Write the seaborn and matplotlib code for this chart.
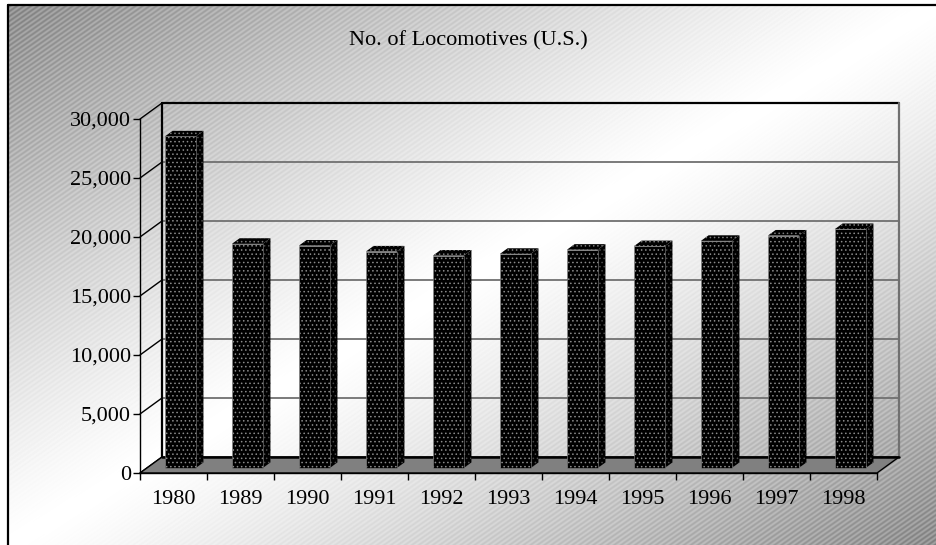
import numpy as np
import pandas as pd
import matplotlib
matplotlib.use("Agg")
import matplotlib.pyplot as plt
from matplotlib.patches import Polygon
import seaborn as sns

# Fleet size of U.S. locomotives by year
years = ["1980", "1989", "1990", "1991", "1992", "1993", "1994", "1995", "1996", "1997", "1998"]
locomotives = [28100, 19000, 18850, 18350, 18000, 18150, 18500, 18800, 19250, 19700, 20250]
y_ticks = [0, 5000, 10000, 15000, 20000, 25000, 30000]
title = "No. of Locomotives (U.S.)"

sns.set_theme(style="white")
plt.rcParams["font.family"] = ["Liberation Serif", "DejaVu Serif"]
plt.rcParams["hatch.linewidth"] = 0.6

W, H = 936, 545
fig = plt.figure(figsize=(W / 100, H / 100), dpi=100)
fig.patch.set_facecolor("white")

# ---- chart-area background: diagonal two-way grey gradient with fine stripes
bg = fig.add_axes([0, 0, 1, 1], zorder=-10)
yy, xx = np.mgrid[0:H, 0:W].astype(float)
u = (xx - 8) / (W - 8)
v = (yy - 5) / (H - 5)
t = (u + v) / 2
val = 1 - 0.44 * np.abs(2 * t - 1) ** 1.2
theta = np.deg2rad(35)
phase = (xx * np.sin(theta) + yy * np.cos(theta)) / 4.0
stripe = np.cos(2 * np.pi * phase)
val = val + 0.16 * (1 - val) * stripe
val[(xx < 8) | (yy < 5)] = 1.0
bg.imshow(np.clip(val, 0, 1), cmap="gray", vmin=0, vmax=1,
          extent=[0, W, H, 0], interpolation="nearest", aspect="auto")
bg.set_xlim(0, W)
bg.set_ylim(H, 0)
bg.axis("off")
bg.plot([8, 8], [H, 5], color="black", lw=1.6)
bg.plot([8, W], [5, 5], color="black", lw=1.6)

# ---- main axes (front plane of the 3-D box)
ax = fig.add_axes([140 / W, (H - 473) / H, 737 / W, 354 / H])
ax.set_facecolor("none")
df = pd.DataFrame({"Year": years, "Locomotives": locomotives})
sns.barplot(data=df, x="Year", y="Locomotives", color="black", width=0.46,
            saturation=1, ax=ax, zorder=5)
ax.set_xlim(-0.5, len(years) - 0.5)
ax.set_ylim(y_ticks[0], y_ticks[-1])

px_x = 737 / len(years)
px_y = 354 / (y_ticks[-1] - y_ticks[0])
wall_dx, wall_dy = 22, 16


def shift(x, y, d):
    """Project a point (x, y) to depth d (0 = front, 1 = back wall)."""
    return (x + d * wall_dx / px_x, y + d * wall_dy / px_y)


x_lo, x_hi = -0.5, len(years) - 0.5
y_top = y_ticks[-1]

# floor
floor = Polygon([shift(x_lo, 0, 0), shift(x_hi, 0, 0), shift(x_hi, 0, 1), shift(x_lo, 0, 1)],
                closed=True, fc="#808080", ec="black", lw=1, clip_on=False, zorder=1)
ax.add_patch(floor)

# back wall gridlines
for yt in y_ticks[1:-1]:
    a, b = shift(x_lo, yt, 1), shift(x_hi, yt, 1)
    ax.plot([a[0], b[0]], [a[1], b[1]], color="#707070", lw=1.3, clip_on=False, zorder=0.5)
a, b = shift(x_lo, y_top, 1), shift(x_hi, y_top, 1)
ax.plot([a[0], b[0]], [a[1], b[1]], color="black", lw=1.6, clip_on=False, zorder=0.6)
a, b = shift(x_lo, 0, 1), shift(x_hi, 0, 1)
ax.plot([a[0], b[0]], [a[1], b[1]], color="black", lw=1.8, clip_on=False, zorder=1.5)
# back wall verticals
a, b = shift(x_lo, 0, 1), shift(x_lo, y_top, 1)
ax.plot([a[0], b[0]], [a[1], b[1]], color="black", lw=1.6, clip_on=False, zorder=0.6)
a, b = shift(x_hi, 0, 1), shift(x_hi, y_top, 1)
ax.plot([a[0], b[0]], [a[1], b[1]], color="#707070", lw=1.6, clip_on=False, zorder=0.6)
# side wall diagonals
for yt in y_ticks:
    a, b = shift(x_lo, yt, 0), shift(x_lo, yt, 1)
    ax.plot([a[0], b[0]], [a[1], b[1]], color="black", lw=1.0, clip_on=False, zorder=0.7)

# ---- 3-D bars: shift front faces back a little, add top and side faces
d0, d1 = 0.31, 0.66
hatch = "...."
for patch in list(ax.patches):
    if patch is floor:
        continue
    x0, w, h = patch.get_x(), patch.get_width(), patch.get_height()
    fx, fy = shift(x0, 0, d0)
    patch.set_x(fx)
    patch.set_y(fy)
    patch.set_hatch(hatch)
    patch.set_edgecolor("#8a8a8a")
    patch.set_linewidth(0.4)
    patch.set_zorder(6)
    x1 = x0 + w
    side = Polygon([shift(x1, 0, d0), shift(x1, 0, d1), shift(x1, h, d1), shift(x1, h, d0)],
                   closed=True, fc="black", ec="#4a4a4a", lw=0, hatch=hatch, zorder=5)
    top = Polygon([shift(x0, h, d0), shift(x1, h, d0), shift(x1, h, d1), shift(x0, h, d1)],
                  closed=True, fc="black", ec="#7a7a7a", lw=0, hatch=hatch, zorder=5)
    ax.add_patch(side)
    ax.add_patch(top)

# ---- axes, ticks and labels
for s in ["top", "right"]:
    ax.spines[s].set_visible(False)
for s in ["left", "bottom"]:
    ax.spines[s].set_color("black")
    ax.spines[s].set_linewidth(1.0)
    ax.spines[s].set_zorder(3)

ax.set_yticks(y_ticks)
ax.set_yticklabels([f"{v:,}" for v in y_ticks])
ax.tick_params(axis="y", left=True, direction="out", length=5, width=1,
               color="black", pad=1.5, labelsize=16, labelcolor="black")
ax.set_xticks(range(len(years)))
ax.set_xticklabels(years)
ax.set_xticks(np.arange(x_lo, x_hi + 0.01, 1), minor=True)
ax.tick_params(axis="x", which="major", bottom=True, length=0, pad=12,
               labelsize=16, labelcolor="black")
ax.tick_params(axis="x", which="minor", bottom=True, length=5, width=1,
               direction="out", color="black")
ax.set_xlabel("")
ax.set_ylabel("")
ax.grid(False)

fig.text(468 / W, 1 - 45 / H, title, ha="center", va="baseline", fontsize=16, color="black")

fig.savefig("out.png", dpi=100)
